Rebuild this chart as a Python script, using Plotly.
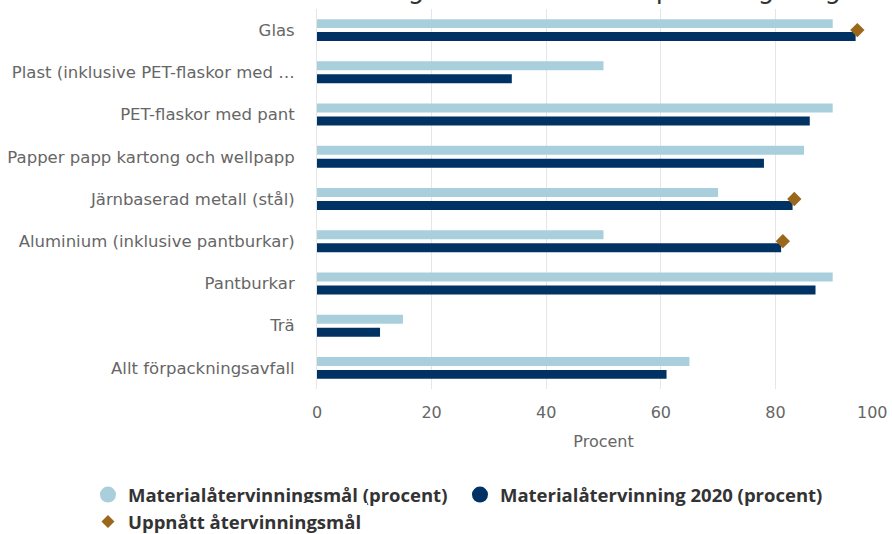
import plotly.graph_objects as go

categories = [
    "Glas",
    "Plast (inklusive PET-flaskor med …",
    "PET-flaskor med pant",
    "Papper papp kartong och wellpapp",
    "Järnbaserad metall (stål)",
    "Aluminium (inklusive pantburkar)",
    "Pantburkar",
    "Trä",
    "Allt förpackningsavfall",
]
target_pct = [90, 50, 90, 85, 70, 50, 90, 15, 65]
actual_2020_pct = [94, 34, 86, 78, 83, 81, 87, 11, 61]
achieved_pct = [94.3, None, None, None, 83.3, 81.3, None, None, None]

name_target = "Materialåtervinningsmål (procent)"
name_actual = "Materialåtervinning 2020 (procent)"
name_achieved = "Uppnått återvinningsmål"
title_text = "Materialåtervinning 2020 för olika förpackningsslag"
x_title = "Procent"
x_ticks = [0, 20, 40, 60, 80, 100]
x_ticktext = ["0", "20", "40", "60", "80", ""]
last_tick = 100
last_tick_label = "100"

c_light = "#aacfdc"
c_dark = "#003263"
c_gold = "#9a671d"
FONT = "DejaVu Sans"

fig = go.Figure()
fig.add_trace(go.Bar(y=categories, x=target_pct, orientation="h", name=name_target,
                     marker=dict(color=c_light, line=dict(width=0)),
                     showlegend=False, legendgroup="t"))
fig.add_trace(go.Bar(y=categories, x=actual_2020_pct, orientation="h", name=name_actual,
                     marker=dict(color=c_dark, line=dict(width=0)),
                     showlegend=False, legendgroup="a"))
fig.add_trace(go.Scatter(y=categories, x=achieved_pct, mode="markers", name=name_achieved,
                         marker=dict(symbol="diamond", size=11, color=c_gold),
                         showlegend=False, legendgroup="d"))
# legend entries (circle symbols as in the reference legend)
fig.add_trace(go.Scatter(x=[None], y=[None], mode="markers", name=name_target,
                         marker=dict(symbol="circle", size=18, color=c_light), legendgroup="t"))
fig.add_trace(go.Scatter(x=[None], y=[None], mode="markers", name=name_actual,
                         marker=dict(symbol="circle", size=18, color=c_dark), legendgroup="a"))
fig.add_trace(go.Scatter(x=[None], y=[None], mode="markers", name=name_achieved,
                         marker=dict(symbol="diamond", size=10, color=c_gold), legendgroup="d",
                         legend="legend2"))

n_cat = len(categories)
legend_font = dict(family="Open Sans", size=18.5, color="#333333", weight="bold")
fig.update_layout(
    width=892, height=534,
    margin=dict(l=317, r=2, t=9, b=145, autoexpand=False),
    paper_bgcolor="white", plot_bgcolor="white",
    barmode="group", bargap=0.385, bargroupgap=0.31,
    font=dict(family=FONT, color="#666666", size=15),
    xaxis=dict(range=[0, 100], tickvals=x_ticks, ticktext=x_ticktext, showgrid=True,
               gridcolor="#e6e6e6", gridwidth=1, zeroline=False, showline=False,
               automargin=False, ticklabelstandoff=12,
               tickfont=dict(family=FONT, size=16, color="#666666"),
               title=dict(text=x_title, font=dict(family=FONT, size=16, color="#666666"),
                          standoff=14)),
    yaxis=dict(range=[n_cat - 0.5, -0.5], showgrid=False, zeroline=False, showline=True,
               linecolor="#e6e6e6", linewidth=1, automargin=False,
               ticklabelstandoff=18, tickfont=dict(family=FONT, size=16.5, color="#666666")),
    legend=dict(orientation="h", xref="paper", yref="paper", x=-0.3997, y=-0.229,
                xanchor="left", yanchor="top", font=legend_font,
                itemwidth=30, entrywidth=327, entrywidthmode="pixels"),
    legend2=dict(orientation="h", xref="paper", yref="paper", x=-0.3997, y=-0.300,
                 xanchor="left", yanchor="top", font=legend_font, itemwidth=30),
    showlegend=True,
)
fig.add_annotation(text=last_tick_label, xref="x", yref="paper", x=last_tick, y=0,
                   xanchor="right", yanchor="top", yshift=-12, showarrow=False,
                   font=dict(family=FONT, size=16, color="#666666"))
fig.add_annotation(text=title_text, xref="paper", yref="paper", x=0.918, y=1,
                   xanchor="right", yanchor="bottom", yshift=3, showarrow=False,
                   font=dict(family=FONT, size=26, color="#333333"))

fig.write_html("out.html", config={"displayModeBar": False},
               post_script="document.body.style.margin='0';document.body.style.padding='0';")
